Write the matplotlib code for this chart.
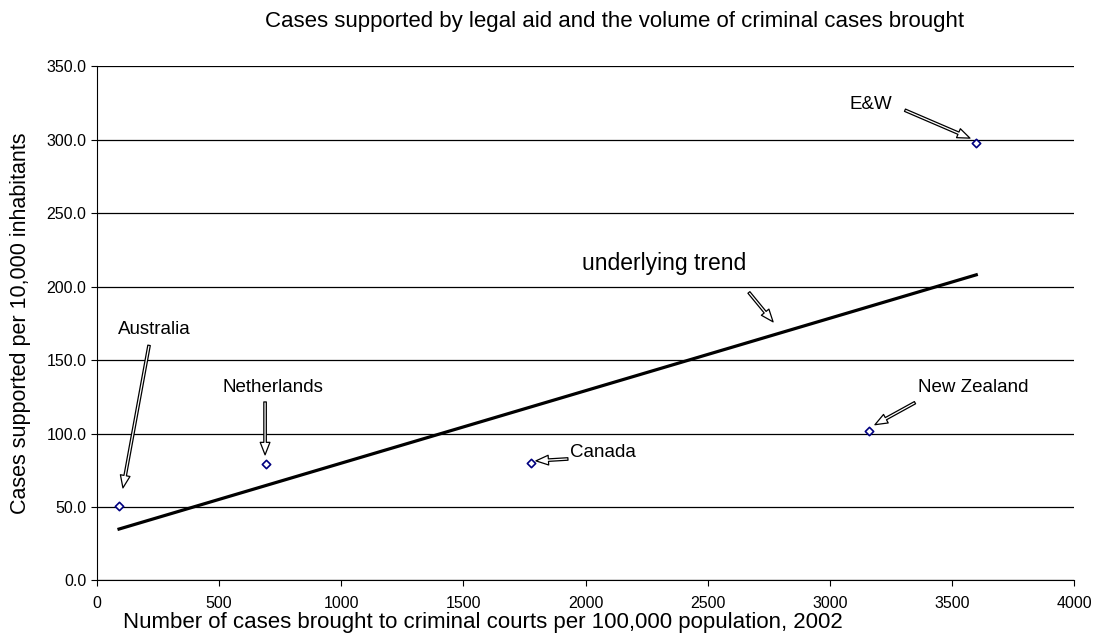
import matplotlib
matplotlib.use("Agg")
import matplotlib.pyplot as plt

plt.rcParams['font.family'] = ['Liberation Sans', 'DejaVu Sans']

countries = ["Australia", "Netherlands", "Canada", "New Zealand", "E&W"]
cases_brought = [90, 690, 1775, 3160, 3600]
cases_supported = [51, 79, 80, 102, 298]

trend_x = [90, 3600]
trend_y = [35, 208]

# label text positions and arrow start/end (data coords)
label_pos = [(235, 171), (721, 131), (1937, 87), (3587, 131), (3169, 324)]
label_ha = ['center', 'center', 'left', 'center', 'center']
arrow_start = [(213, 160), (688, 121.5), (1928, 82.7), (3349, 121), (3308, 320)]
arrow_end = [(106, 63), (688, 85.5), (1797, 81.4), (3185, 106), (3574, 301)]
trend_label = "underlying trend"
trend_label_pos = (2321, 216)
trend_arrow = [(2669, 196), (2768, 176)]

fig = plt.figure(figsize=(10.94, 6.42), dpi=100)
ax = fig.add_axes([0.0887, 0.0958, 0.8930, 0.8012])

ax.set_xlim(0, 4000)
ax.set_ylim(0, 350)
ax.set_xticks(range(0, 4001, 500))
ax.set_yticks(range(0, 351, 50))
ax.set_yticklabels([f"{v:.1f}" for v in range(0, 351, 50)])
ax.yaxis.grid(True, color='black', linewidth=0.9)
ax.set_axisbelow(True)
for s in ['right', 'top']:
    ax.spines[s].set_visible(False)
ax.tick_params(axis='both', labelsize=11.5, length=4, width=0.8, direction='out')
ax.tick_params(axis='x', pad=7)

ax.plot(trend_x, trend_y, color='black', linewidth=2.3, zorder=3)
ax.scatter(cases_brought, cases_supported, marker='D', s=18, facecolors='white',
           edgecolors='#000080', linewidths=1.2, zorder=4)

arrow_props = dict(arrowstyle='simple,head_length=0.9,head_width=0.7,tail_width=0.18',
                   fc='white', ec='black', lw=0.9, shrinkA=0, shrinkB=0)
for name, lp, ha, a0, a1 in zip(countries, label_pos, label_ha, arrow_start, arrow_end):
    ax.text(lp[0], lp[1], name, ha=ha, va='center', fontsize=13.5)
    ax.annotate("", xy=a1, xytext=a0, arrowprops=arrow_props)

ax.text(trend_label_pos[0], trend_label_pos[1], trend_label, ha='center', va='center', fontsize=16.5)
ax.annotate("", xy=trend_arrow[1], xytext=trend_arrow[0], arrowprops=arrow_props)

ax.set_ylabel("Cases supported per 10,000 inhabitants", fontsize=15.5, labelpad=11)
fig.text(0.1124, 0.031, "Number of cases brought to criminal courts per 100,000 population, 2002",
         ha='left', va='center', fontsize=16)
fig.text(0.2422, 0.967, "Cases supported by legal aid and the volume of criminal cases brought",
         ha='left', va='center', fontsize=16)

fig.savefig("out.png", dpi=100)
